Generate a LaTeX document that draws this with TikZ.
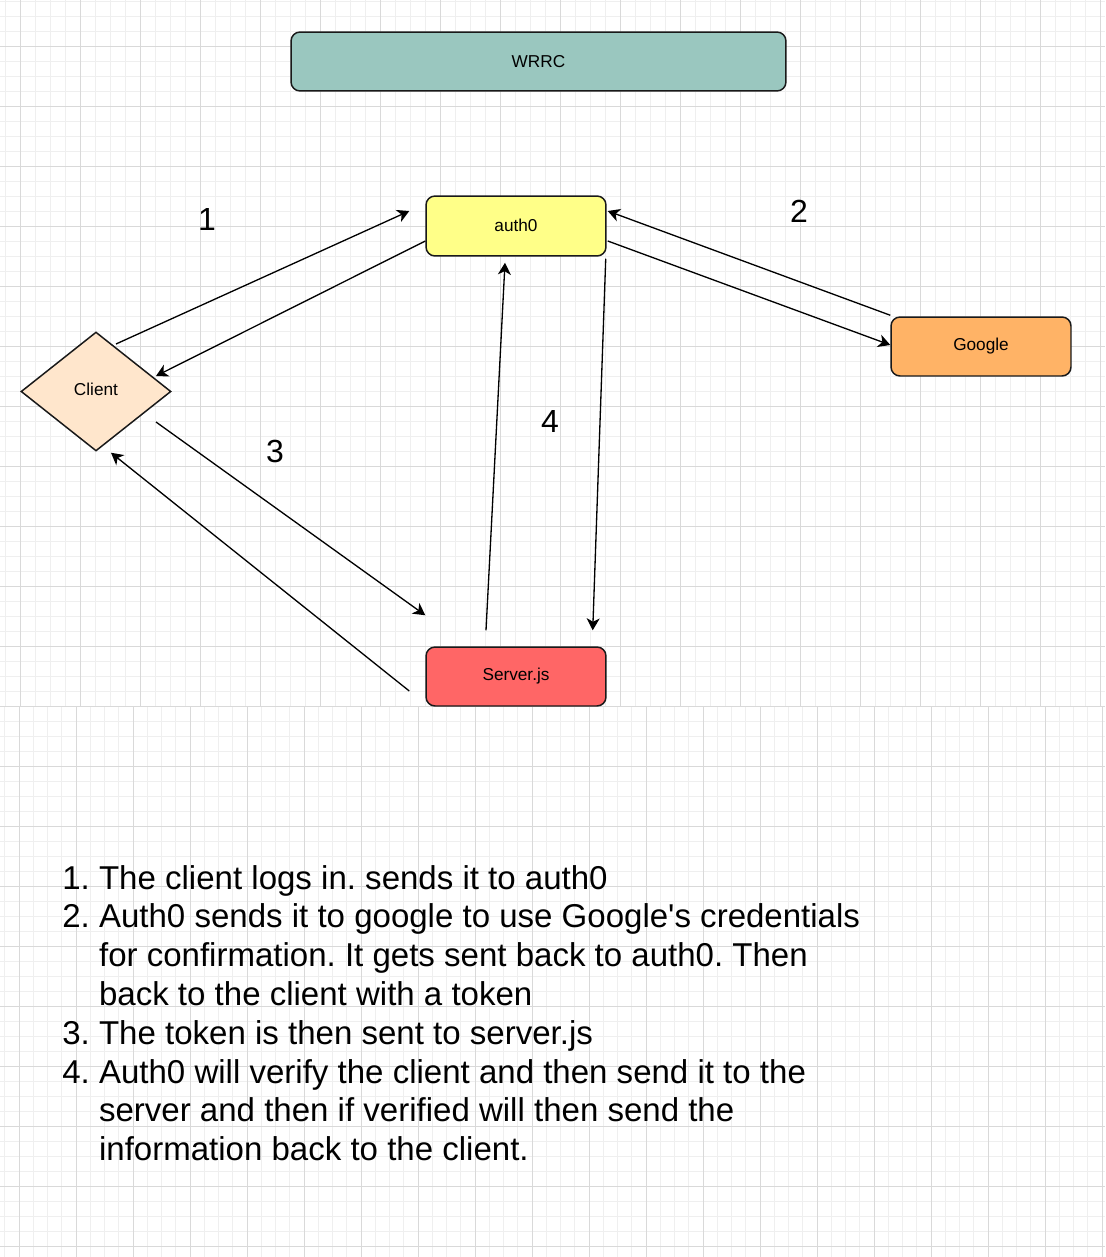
\documentclass[tikz,border=0pt]{standalone}
\usepackage{fontspec}
\setmainfont{Liberation Sans}
\usetikzlibrary{calc}
\usetikzlibrary{positioning}
\usetikzlibrary{arrows.meta}
\usetikzlibrary{shapes.geometric}
\frenchspacing

\definecolor{wrrcfill}{HTML}{9AC7BF}
\definecolor{authfill}{HTML}{FFFF88}
\definecolor{googlefill}{HTML}{FFB366}
\definecolor{clientfill}{HTML}{FFE6CC}
\definecolor{serverfill}{HTML}{FF6666}
\definecolor{gridmajor}{HTML}{D9D9D9}
\definecolor{gridminor}{HTML}{EFEFEF}

\begin{document}
\begin{tikzpicture}[
        x=0.02cm, y=-0.02cm,
        box/.style={
            rectangle,
            rounded corners=0.18cm,
            draw=black!90,
            line width=0.85pt,
            inner sep=0pt,
            minimum width=3.6cm,
            minimum height=1.2cm,
            font=\fontsize{9.8}{11}\selectfont,
        },
        decision/.style={
            diamond,
            draw=black!90,
            line width=0.85pt,
            inner sep=0pt,
            minimum width=3cm,
            minimum height=2.38cm,
            fill=clientfill,
            font=\fontsize{9.8}{11}\selectfont,
        },
        flow/.style={
            line width=0.75pt,
            -{Stealth[length=6.8pt,width=7.4pt,inset=2pt]},
        },
        num/.style={
            inner sep=0pt,
            font=\fontsize{18.2}{20}\selectfont,
        }
    ]

    \useasboundingbox (0,0) rectangle (1105,1257);
    \fill[white] (0,0) rectangle (1105,1257);

    % grid
    \foreach \gx in {5.7,20.7,...,1105} {
        \draw[gridminor, line width=0.4pt] (\gx,0) -- (\gx,706);
    }
    \foreach \gx in {4.75,19,...,1105} {
        \draw[gridminor, line width=0.4pt] (\gx,706) -- (\gx,1257);
    }
    \foreach \gy in {1,16,...,1257} {
        \draw[gridminor, line width=0.4pt] (0,\gy) -- (1105,\gy);
    }
    \foreach \gx in {20.7,80.7,...,1105} {
        \draw[gridmajor, line width=0.5pt] (\gx,0) -- (\gx,706);
    }
    \foreach \gx in {19,76,...,1105} {
        \draw[gridmajor, line width=0.5pt] (\gx,706) -- (\gx,1257);
    }
    \foreach \gy in {46,106,...,1257} {
        \draw[gridmajor, line width=0.5pt] (0,\gy) -- (1105,\gy);
    }

    \node (wrrc) at (538.5,61.5) [box, fill=wrrcfill, minimum width=9.9cm, minimum height=1.18cm] {WRRC};
    \node (auth0) at (516,226) [box, fill=authfill] {\raisebox{0.5pt}{auth0}};
    \node (google) at (981,346.5) [box, fill=googlefill, minimum height=1.18cm] {Google};
    \node (client) at (96,391.5) [decision] {\raisebox{2.3pt}{Client}};
    \node (server) at (516,676.5) [box, fill=serverfill, minimum height=1.18cm] {Server.js};

    \draw [flow] ($(client)+(20,-47.5)$) -- ($(auth0.west)+(-16,-15)$);
    \draw [flow] ($(auth0.west)+(0,15)$) -- ($(client)+(60,-15.5)$);
    \draw [flow] ($(google.north west)+(0,-1)$) -- ($(auth0.east)+(1,-15)$);
    \draw [flow] ($(auth0.east)+(1,15)$) -- ($(google.west)+(0,-1.5)$);
    \draw [flow] ($(client)+(60,30.5)$) -- ($(server.north west)+(0,-31)$);
    \draw [flow] ($(server.west)+(-16,14.5)$) -- ($(client.south)+(15,1)$);
    \draw [flow] ($(server.north)+(-30,-16)$) -- ($(auth0.south)+(-11,6)$);
    \draw [flow] ($(auth0.south east)+(-1,2)$) -- ($(server.north east)+(-14,-16)$);

    \node (n1) at (207,219) [num] {1};
    \node (n2) at (799,211) [num] {2};
    \node (n3) at (275,451) [num] {3};
    \node (n4) at (550,421) [num] {4};

    \node (steps) at (62,889) [anchor=base west, inner sep=0pt, font=\fontsize{18.8}{22.1}\selectfont] {%
        \begin{tabular}[t]{@{}l@{\ }l@{}}
            1. & The client logs in. sends it to auth0\\
            2. & Auth0 sends it to google to use Google\textquotesingle s credentials\\
               & for confirmation. It gets sent back to auth0. Then\\
               & back to the client with a token\\
            3. & The token is then sent to server.js\\
            4. & Auth0 will verify the client and then send it to the\\
               & server and then if verified will then send the\\
               & information back to the client.
        \end{tabular}};

\end{tikzpicture}
\end{document}
